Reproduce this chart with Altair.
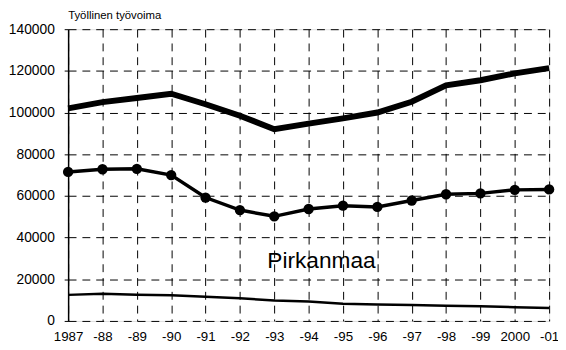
import altair as alt
import pandas as pd

tick_labels = ["1987", "-88", "-89", "-90", "-91", "-92", "-93", "-94", "-95", "-96", "-97", "-98", "-99", "2000", "-01"]
top_series = [102000, 105000, 107000, 109000, 104000, 98500, 92000, 94700, 97200, 100000, 105200, 113000, 115500, 118800, 121300]
mid_series = [71500, 72800, 73000, 70000, 59200, 53200, 50200, 53700, 55300, 54700, 57800, 60800, 61200, 62900, 63100]
low_series = [12500, 13000, 12600, 12300, 11600, 10900, 9800, 9300, 8200, 7900, 7600, 7300, 7000, 6600, 6200]
annotation = {"x": ["-94"], "y": [28800], "label": ["Pirkanmaa"]}

FONT = "Liberation Sans"

df = pd.DataFrame({"year": tick_labels, "top": top_series, "mid": mid_series, "low": low_series})

x_scale = alt.Scale(type="point", domain=tick_labels, padding=0)
x_enc = alt.X(
    "year:O",
    scale=x_scale,
    sort=tick_labels,
    axis=alt.Axis(
        labelAngle=0,
        labelOverlap=False,
        title=None,
        grid=True,
        gridDash=[8, 6],
        gridColor="black",
        gridWidth=1,
        gridOpacity=1,
        domain=False,
        ticks=False,
        labelFont=FONT,
        labelFontSize=13.5,
        labelColor="black",
        labelPadding=9,
    ),
)

y_scale = alt.Scale(domain=[0, 140000], nice=False)
y_axis = alt.Axis(
    values=list(range(0, 140001, 20000)),
    format="d",
    labelOverlap=False,
    labelFlush=False,
    title=None,
    grid=True,
    gridDash=[8, 6],
    gridColor="black",
    gridWidth=1,
    gridOpacity=1,
    domain=True,
    domainColor="black",
    domainWidth=1.5,
    ticks=True,
    tickSize=4,
    tickColor="black",
    labelFont=FONT,
    labelFontSize=14,
    labelColor="black",
    labelPadding=10,
)

base = alt.Chart(df)

top_line = base.mark_line(color="black", strokeWidth=6).encode(
    x=x_enc, y=alt.Y("top:Q", scale=y_scale, axis=y_axis)
)
mid_line = base.mark_line(color="black", strokeWidth=3.5).encode(
    x=alt.X("year:O", scale=x_scale, sort=tick_labels), y=alt.Y("mid:Q", scale=y_scale)
)
mid_pts = base.mark_point(filled=True, color="black", size=110, opacity=1).encode(
    x=alt.X("year:O", scale=x_scale, sort=tick_labels), y=alt.Y("mid:Q", scale=y_scale)
)
low_line = base.mark_line(color="black", strokeWidth=2.5).encode(
    x=alt.X("year:O", scale=x_scale, sort=tick_labels), y=alt.Y("low:Q", scale=y_scale)
)
text = alt.Chart(pd.DataFrame(annotation)).mark_text(
    font=FONT, fontSize=23, color="black", align="center", baseline="middle", dx=13
).encode(
    x=alt.X("x:O", scale=x_scale, sort=tick_labels),
    y=alt.Y("y:Q", scale=y_scale),
    text="label:N",
)

chart = alt.layer(top_line, low_line, mid_line, mid_pts, text).properties(
    width=488,
    height=296,
    autosize=alt.AutoSizeParams(type="none"),
    padding={"left": 61, "top": 19, "right": 9, "bottom": 27},
    title=alt.TitleParams(
        "Työllinen työvoima",
        anchor="start",
        frame="group",
        font=FONT,
        fontSize=11.5,
        fontWeight="normal",
        color="black",
        offset=1,
    ),
).configure_view(stroke="#555555", strokeWidth=1.2).configure(background="white")

chart.save("out.html", embed_options={"renderer": "svg", "actions": False})
